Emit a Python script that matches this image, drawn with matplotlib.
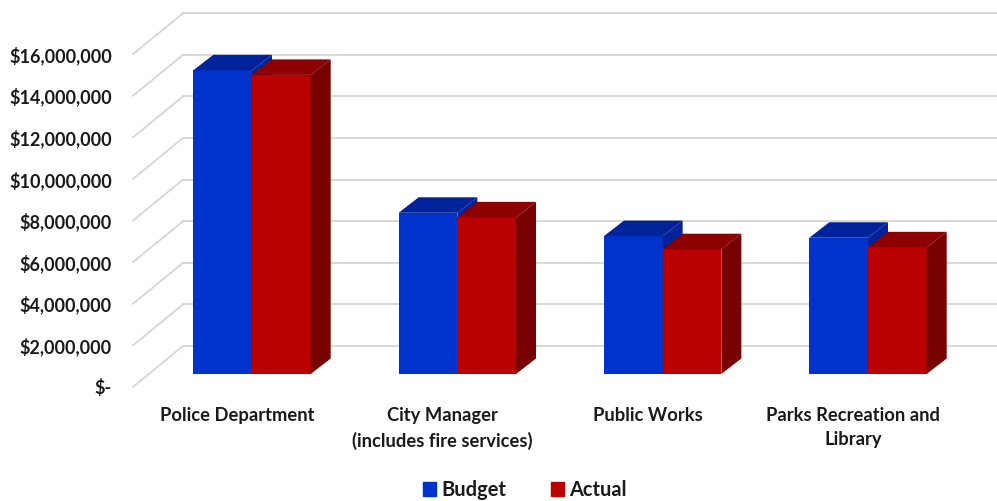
import matplotlib
matplotlib.use('Agg')
import matplotlib.pyplot as plt
from matplotlib.patches import Patch, Polygon

plt.rcParams['font.family'] = ['Lato', 'DejaVu Sans']

# Spending by department
categories = ['Police Department', 'City Manager\n(includes fire services)',
              'Public Works', 'Parks Recreation and\nLibrary']
budget = [14600000, 7750000, 6630000, 6550000]
actual = [14380000, 7530000, 6000000, 6090000]
y_ticks = [0, 2000000, 4000000, 6000000, 8000000, 10000000, 12000000, 14000000, 16000000]
y_labels = ['$-', '$2,000,000', '$4,000,000', '$6,000,000', '$8,000,000',
            '$10,000,000', '$12,000,000', '$14,000,000', '$16,000,000']

W, H = 997, 501
PX_X = 205.33          # pixels per category
PX_Y = 20.8 / 1000000  # pixels per dollar
X0, Y0 = 252.0, 374.0  # where the first category meets the zero line


def dx(px):
    return px / PX_X


def dy(px):
    return px / PX_Y


fig = plt.figure(figsize=(W / 100, H / 100), dpi=100)
ax = fig.add_axes([0, 0, 1, 1])
ax.set_xlim(-X0 / PX_X, (W - X0) / PX_X)
ax.set_ylim(-(H - Y0) / PX_Y, Y0 / PX_Y)
ax.axis('off')

# The chart box: diagonal floor/wall lines plus the lines on the back wall
grid = '#d6d6d6'
front_x, front_y = dx(133 - X0), dy(-13)
back_x, back_y = dx(183 - X0), dy(28)
for t, lab in zip(y_ticks, y_labels):
    ax.plot([front_x, back_x], [t + front_y, t + back_y], color=grid, lw=1.3, zorder=1)
    ax.plot([back_x, dx(W - X0)], [t + back_y, t + back_y], color=grid, lw=1.3, zorder=1)
    ax.text(dx(112 - X0), t + front_y - dy(1.5), lab, ha='right', va='center',
            fontsize=13, fontweight='bold', color='#1a1a1a')

bar_w = dx(58.7)
depth_x, depth_y = dx(20), dy(15.5)


def draw_bar(x, v, front, top, side):
    ax.bar(x, v, bar_w, align='edge', color=front, linewidth=0, zorder=2)
    ax.add_patch(Polygon([(x, v), (x + bar_w, v), (x + bar_w + depth_x, v + depth_y),
                          (x + depth_x, v + depth_y)], color=top, lw=0, zorder=2))
    ax.add_patch(Polygon([(x + bar_w, 0), (x + bar_w + depth_x, depth_y),
                          (x + bar_w + depth_x, v + depth_y), (x + bar_w, v)],
                         color=side, lw=0, zorder=2))


for i in range(len(categories)):
    draw_bar(i - bar_w, budget[i], '#0033cc', '#00229a', '#00229a')
    draw_bar(i, actual[i], '#bb0000', '#8c0000', '#770000')
    ax.text(i - dx(15), dy(374 - 407), categories[i], ha='center', va='top',
            fontsize=13.2, fontweight='bold', color='#1a1a1a', linespacing=1.5)

handles = [Patch(color='#0033cc', label='Budget'), Patch(color='#bb0000', label='Actual')]
ax.legend(handles=handles, ncol=2, frameon=False, loc='center',
          bbox_to_anchor=(525 / W, 1 - 490 / H), prop={'size': 14.4, 'weight': 'bold'},
          handlelength=0.65, handleheight=0.65, handletextpad=0.25, columnspacing=2.25,
          labelcolor='#1a1a1a')

fig.savefig('out.png', dpi=100)
